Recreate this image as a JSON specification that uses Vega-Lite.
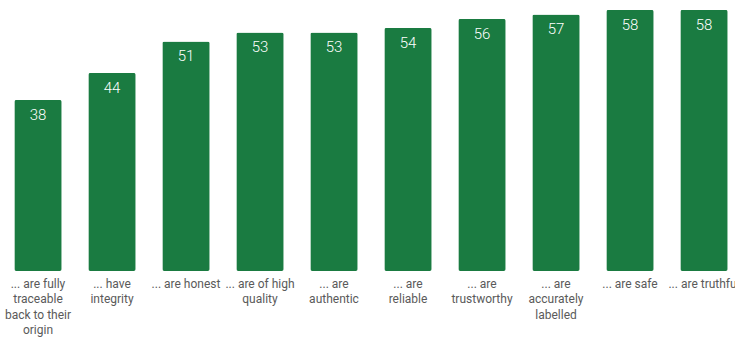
{
  "$schema": "https://vega.github.io/schema/vega-lite/v6.json",
  "width": 740,
  "height": 271,
  "autosize": "none",
  "padding": {"left": 1, "top": 0, "right": 0, "bottom": 67},
  "background": "white",
  "config": {"view": {"stroke": null}, "font": "Roboto"},
  "data": {
    "values": [
      {"statement": "... are fully\ntraceable\nback to their\norigin", "value": 38},
      {"statement": "... have\nintegrity", "value": 44},
      {"statement": "... are honest", "value": 51},
      {"statement": "... are of high\nquality", "value": 53},
      {"statement": "... are\nauthentic", "value": 53},
      {"statement": "... are\nreliable", "value": 54},
      {"statement": "... are\ntrustworthy", "value": 56},
      {"statement": "... are\naccurately\nlabelled", "value": 57},
      {"statement": "... are safe", "value": 58},
      {"statement": "... are truthful", "value": 58}
    ]
  },
  "encoding": {
    "x": {
      "field": "statement",
      "type": "nominal",
      "sort": null,
      "scale": {"paddingInner": 0.36, "paddingOuter": 0.18},
      "axis": {
        "title": null,
        "labelAngle": 0,
        "labelExpr": "split(datum.label, '\\n')",
        "labelFont": "Roboto",
        "labelFontSize": 12,
        "labelColor": "#5a5a5a",
        "labelLineHeight": 15.5,
        "labelPadding": 7,
        "labelLimit": 0,
        "ticks": false,
        "domain": false
      }
    },
    "y": {
      "field": "value",
      "type": "quantitative",
      "scale": {"domain": [0, 60.2], "nice": false},
      "axis": null
    }
  },
  "layer": [
    {"mark": {"type": "bar", "color": "#1a7b41", "cornerRadius": 2}},
    {
      "mark": {"type": "text", "color": "white", "baseline": "top", "dy": 8, "fontSize": 15, "fontWeight": 300, "font": "Roboto"},
      "encoding": {"text": {"field": "value", "type": "quantitative"}}
    }
  ]
}
